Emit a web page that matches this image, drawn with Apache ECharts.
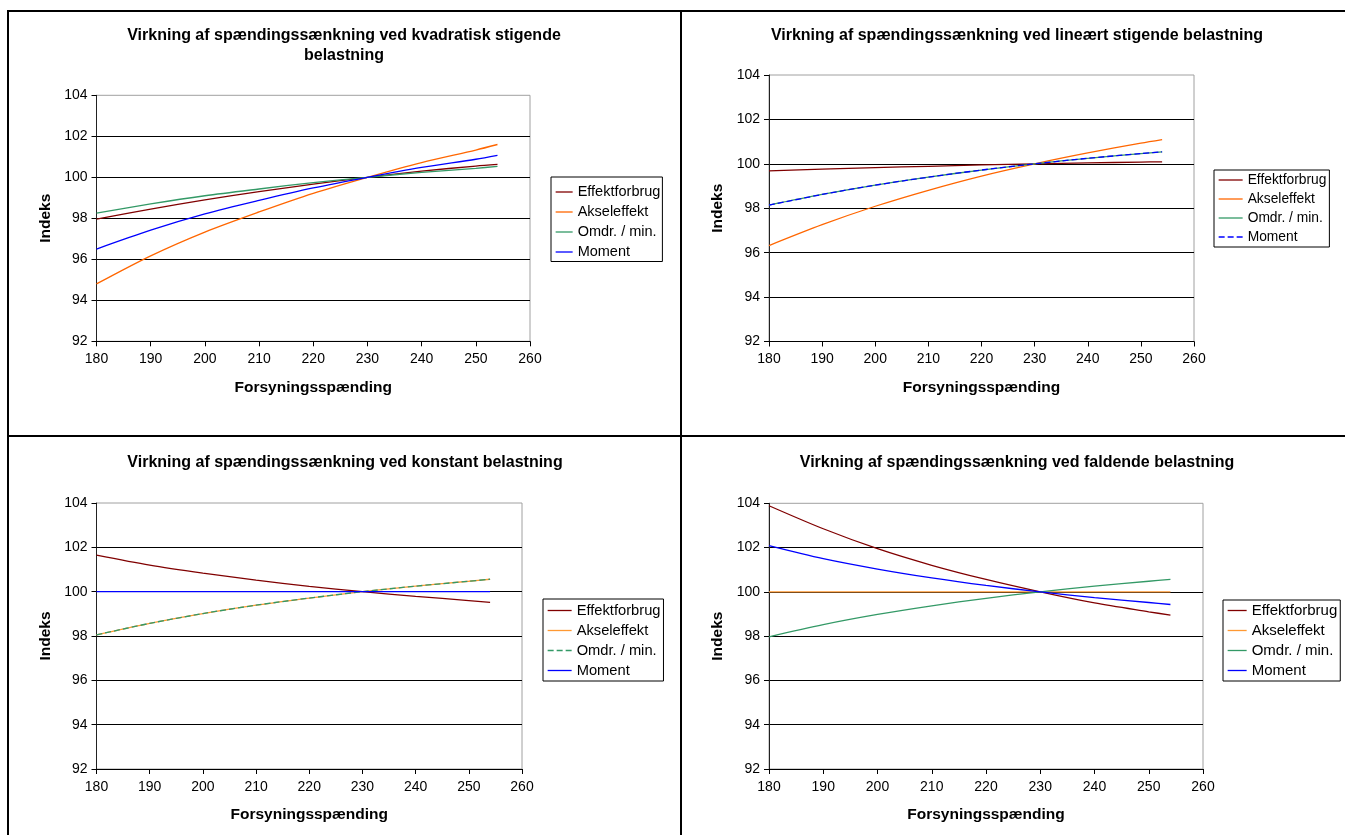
<!DOCTYPE html>
<html><head><meta charset="utf-8">
<script src="https://cdn.jsdelivr.net/npm/echarts@6/dist/echarts.min.js"></script>
<style>
html,body{margin:0;padding:0;background:#fff;width:1345px;height:835px;overflow:hidden;position:relative;}
.c{position:absolute;}
.ln{position:absolute;background:#000;}
</style></head><body>
<div class="ln" style="left:7px;top:10px;width:1338px;height:2px"></div>
<div class="ln" style="left:7px;top:10px;width:2px;height:825px"></div>
<div class="ln" style="left:680px;top:10px;width:2px;height:825px"></div>
<div class="ln" style="left:7px;top:435px;width:1338px;height:2px"></div>
<div id="c1" class="c" style="left:9px;top:12px;width:671px;height:423px"></div>
<div id="c2" class="c" style="left:682px;top:12px;width:663px;height:423px"></div>
<div id="c3" class="c" style="left:9px;top:437px;width:671px;height:398px"></div>
<div id="c4" class="c" style="left:682px;top:437px;width:663px;height:398px"></div>
<script>
// ---- data ----
const voltage = [180, 190, 200, 210, 220, 230, 240, 250, 254];
const xTickLabels = [180, 190, 200, 210, 220, 230, 240, 250, 260];
const yTickLabels = [92, 94, 96, 98, 100, 102, 104];
const seriesNames = ['Effektforbrug', 'Akseleffekt', 'Omdr. / min.', 'Moment'];
const xAxisName = 'Forsyningsspænding';
const yAxisName = 'Indeks';
const titles = [
  'Virkning af spændingssænkning ved kvadratisk stigende\nbelastning',
  'Virkning af spændingssænkning ved lineært stigende belastning',
  'Virkning af spændingssænkning ved konstant belastning',
  'Virkning af spændingssænkning ved faldende belastning'
];
// kvadratisk stigende belastning
const qEffekt = [97.96, 98.45, 98.9, 99.3, 99.67, 100, 100.3, 100.55, 100.63];
const qAksel  = [94.8, 96.17, 97.33, 98.31, 99.22, 100, 100.72, 101.33, 101.6];
const qOmdr   = [98.25, 98.7, 99.1, 99.43, 99.74, 100, 100.24, 100.44, 100.53];
const qMoment = [96.5, 97.42, 98.21, 98.87, 99.48, 100, 100.48, 100.88, 101.07];
// lineært stigende belastning
const lEffekt = [99.68, 99.76, 99.83, 99.89, 99.95, 100, 100.04, 100.08, 100.09];
const lAksel  = [96.32, 97.26, 98.09, 98.81, 99.45, 100, 100.49, 100.93, 101.09];
const lOmdr   = [98.14, 98.62, 99.04, 99.4, 99.72, 100, 100.25, 100.46, 100.54];
const lMoment = [98.14, 98.62, 99.04, 99.4, 99.72, 100, 100.25, 100.46, 100.54];
// konstant belastning
const kEffekt = [101.65, 101.2, 100.84, 100.52, 100.24, 100, 99.79, 99.6, 99.52];
const kAksel  = [98.05, 98.57, 99.01, 99.39, 99.71, 100, 100.25, 100.47, 100.56];
const kOmdr   = [98.05, 98.57, 99.01, 99.39, 99.71, 100, 100.25, 100.47, 100.56];
const kMoment = [100, 100, 100, 100, 100, 100, 100, 100, 100];
// faldende belastning
const fEffekt = [103.89, 102.85, 101.95, 101.2, 100.56, 100, 99.5, 99.1, 98.95];
const fAksel  = [100, 100, 100, 100, 100, 100, 100, 100, 100];
const fOmdr   = [97.97, 98.52, 98.98, 99.37, 99.71, 100, 100.26, 100.48, 100.56];
const fMoment = [102.09, 101.5, 101.03, 100.63, 100.29, 100, 99.74, 99.52, 99.43];

// ---- styles / layout ----
const FONT = "'Liberation Sans', Arial, sans-serif";
const C_EFF = '#800000', C_AKS = '#FF6600', C_AKS2 = '#FF9933', C_OMD = '#339966', C_MOM = '#0000FF';
const charts = [
  {el:'c1', ox:9, oy:12, grid:{x:96.5,y:95.3,w:433.5,h:246}, title:{x:344,y:26},
   legend:{x:551,y:177,iw:17,pad:[7.5,2,2,4],fs:14.5},
   data:[qEffekt,qAksel,qOmdr,qMoment], colors:[C_EFF,C_AKS,C_OMD,C_MOM], dashed:[false,false,false,false]},
  {el:'c2', ox:682, oy:12, grid:{x:769,y:75,w:425,h:266.5}, title:{x:1017,y:26},
   legend:{x:1214,y:170,iw:24,pad:[3,3,3,4],fs:13.8},
   data:[lEffekt,lAksel,lOmdr,lMoment], colors:[C_EFF,C_AKS,C_OMD,C_MOM], dashed:[false,false,false,true]},
  {el:'c3', ox:9, oy:437, grid:{x:96.5,y:503,w:425.5,h:266}, title:{x:345,y:453},
   legend:{x:543,y:599,iw:24,pad:[4,3,3,4],fs:14.7},
   data:[kEffekt,kAksel,kOmdr,kMoment], colors:[C_EFF,C_AKS2,C_OMD,C_MOM], dashed:[false,false,true,false]},
  {el:'c4', ox:682, oy:437, grid:{x:769,y:503.3,w:434,h:265.7}, title:{x:1017,y:453},
   legend:{x:1223,y:600,iw:19,pad:[3,3,3,4],fs:15},
   data:[fEffekt,fAksel,fOmdr,fMoment], colors:[C_EFF,C_AKS2,C_OMD,C_MOM], dashed:[false,false,false,false]}
];

charts.forEach((cfg, ci) => {
  const chart = echarts.init(document.getElementById(cfg.el), null, {renderer:'canvas'});
  const series = seriesNames.map((name, si) => ({
    type:'line', name:name, symbol:'none', smooth:0.3, silent:true,
    data: voltage.map((v, i) => [v, cfg.data[si][i]]),
    lineStyle:{color:cfg.colors[si], width:1.3, type: cfg.dashed[si] ? [6,3] : 'solid'},
    itemStyle:{color:cfg.colors[si]},
    z: 3 + si
  }));
  const option = {
    animation:false,
    textStyle:{fontFamily:FONT},
    title:{
      text:titles[ci], left:cfg.title.x - cfg.ox, top:cfg.title.y - cfg.oy, padding:0,
      textAlign:'center',
      textStyle:{fontFamily:FONT, fontSize:16, fontWeight:'bold', color:'#000', lineHeight:20}
    },
    legend:{
      orient:'vertical', left:cfg.legend.x - cfg.ox, top:cfg.legend.y - cfg.oy,
      padding:cfg.legend.pad, itemWidth:cfg.legend.iw, itemHeight:14, itemGap:5,
      borderColor:'#000', borderWidth:1, backgroundColor:'#fff', selectedMode:false,
      itemStyle:{color:'transparent', borderColor:'transparent', borderWidth:0, opacity:0},
      lineStyle:{width:1.3},
      textStyle:{fontFamily:FONT, fontSize:cfg.legend.fs, color:'#000'},
      data:seriesNames
    },
    grid:{
      left:cfg.grid.x - cfg.ox, top:cfg.grid.y - cfg.oy, width:cfg.grid.w, height:cfg.grid.h,
      show:true, borderColor:'#A0A0A0', borderWidth:1, backgroundColor:'transparent', containLabel:false
    },
    xAxis:{
      type:'value', min:xTickLabels[0], max:xTickLabels[xTickLabels.length-1],
      interval:xTickLabels[1]-xTickLabels[0],
      name:xAxisName, nameLocation:'middle', nameGap:38,
      nameTextStyle:{fontFamily:FONT, fontSize:15.5, fontWeight:'bold', color:'#000'},
      axisLine:{show:true, onZero:false, lineStyle:{color:'#000', width:1}},
      axisTick:{show:true, length:5, lineStyle:{color:'#000'}},
      axisLabel:{fontFamily:FONT, fontSize:14, color:'#000', margin:11},
      splitLine:{show:false}
    },
    yAxis:{
      type:'value', min:yTickLabels[0], max:yTickLabels[yTickLabels.length-1],
      interval:yTickLabels[1]-yTickLabels[0],
      name:yAxisName, nameLocation:'middle', nameGap:42,
      nameTextStyle:{fontFamily:FONT, fontSize:15.5, fontWeight:'bold', color:'#000'},
      axisLine:{show:true, onZero:false, lineStyle:{color:'#222', width:1}},
      axisTick:{show:true, length:5, lineStyle:{color:'#000'}},
      axisLabel:{fontFamily:FONT, fontSize:14, color:'#000', margin:9},
      splitLine:{show:true, showMinLine:false, showMaxLine:false, lineStyle:{color:'#000', width:1}}
    },
    series:series
  };
  chart.setOption(option);
});
</script>
</body></html>
